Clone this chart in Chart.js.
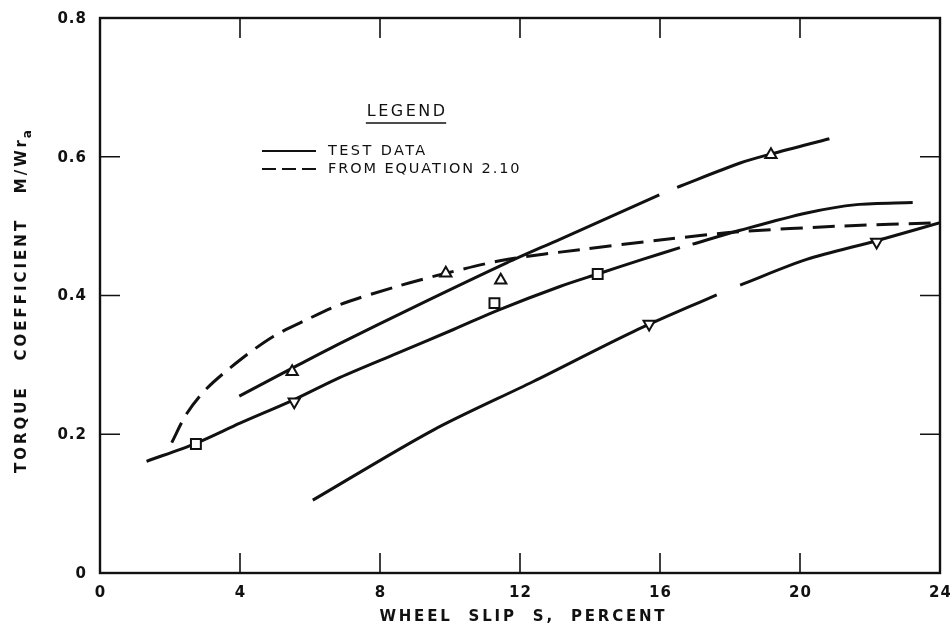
<!DOCTYPE html>
<html>
<head>
<meta charset="utf-8">
<script src="https://cdn.jsdelivr.net/npm/chart.js@4.4.1/dist/chart.umd.min.js"></script>
<style>
  html, body { margin: 0; padding: 0; background: #fff; }
  #wrap { width: 950px; height: 631px; position: relative; }
</style>
</head>
<body>
<div id="wrap"><canvas id="c" width="950" height="631"></canvas></div>
<script>
// Axis ticks
const xTicks = [0, 4, 8, 12, 16, 20, 24];
const xTickLabels = ['0', '4', '8', '12', '16', '20', '24'];
const yTicks = [0, 0.2, 0.4, 0.6, 0.8];
const yTickLabels = ['0', '0.2', '0.4', '0.6', '0.8'];

// Test-data curves: [slip %, torque coefficient]; null marks a break in the pen line
const squareCurve = [[1.33,0.161],[2.74,0.187],[4.0,0.216],[5.55,0.250],[6.86,0.282],[8.5,0.317],[10.1,0.351],[11.38,0.379],[13.14,0.413],[14.22,0.431],[15.5,0.452],[16.57,0.469],null,[16.93,0.474],[18.29,0.494],[20.19,0.519],[21.62,0.531],[23.22,0.534]];
const triUpCurve = [[3.98,0.255],[5.71,0.301],[6.86,0.331],[9.0,0.384],[11.62,0.447],[13.14,0.481],[15.98,0.545],null,[16.49,0.556],[18.29,0.591],[19.17,0.604],[20.84,0.626]];
const triDownCurve = [[6.08,0.105],[9.52,0.206],[12.38,0.276],[15.24,0.348],[17.62,0.401],null,[18.29,0.415],[20.19,0.452],[22.19,0.479],[24,0.505]];

// Curve from equation 2.10
const equationCurve = [[2.05,0.188],[2.48,0.230],[3.05,0.266],[4.0,0.307],[4.95,0.341],[5.9,0.365],[6.86,0.387],[8.48,0.413],[9.88,0.432],[11.62,0.452],[13.71,0.466],[16.0,0.480],[18.29,0.492],[21.14,0.500],[24,0.505]];

// Measured points
const squarePoints = [[2.74,0.186],[11.27,0.389],[14.22,0.431]];
const triUpPoints = [[5.49,0.290],[9.88,0.432],[11.45,0.422],[19.17,0.603]];
const triDownPoints = [[5.55,0.247],[15.69,0.359],[22.19,0.477]];

function toXY(arr) {
  const out = [];
  arr.forEach((p, i) => {
    if (p) out.push({ x: p[0], y: p[1] });
    else out.push({ x: arr[i - 1][0], y: null });
  });
  return out;
}

const INK = '#111';
const FONT = "'DejaVu Sans', sans-serif";

function markerSet(points, style, rotation, radius) {
  return {
    data: toXY(points), showLine: false, pointStyle: style, rotation: rotation,
    pointRadius: radius, pointBorderWidth: 2, pointBackgroundColor: '#fff', pointBorderColor: INK
  };
}
function curveSet(points, dash) {
  return {
    data: toXY(points), showLine: true, spanGaps: false, pointRadius: 0,
    borderColor: INK, borderWidth: 3, borderDash: dash || [], borderCapStyle: 'butt',
    tension: 0.3, fill: false
  };
}

function spaced(ctx, text, x, y, spacing, align) {
  ctx.save();
  ctx.letterSpacing = spacing + 'px';
  const w = ctx.measureText(text).width - spacing;
  let sx = x;
  if (align === 'center') sx = x - w / 2;
  else if (align === 'right') sx = x - w;
  ctx.textAlign = 'left';
  ctx.fillText(text, sx, y);
  ctx.restore();
  return w;
}

const framePlugin = {
  id: 'frame',
  afterDatasetsDraw(chart) {
    const { ctx, chartArea: a, scales: { x, y } } = chart;
    ctx.save();
    ctx.strokeStyle = INK;
    ctx.fillStyle = INK;
    ctx.lineWidth = 2.4;
    ctx.strokeRect(a.left, a.top, a.right - a.left, a.bottom - a.top);

    // inward tick marks on all four sides
    ctx.lineWidth = 1.6;
    const tl = 20;
    xTicks.slice(1, -1).forEach(v => {
      const px = x.getPixelForValue(v);
      ctx.beginPath();
      ctx.moveTo(px, a.bottom); ctx.lineTo(px, a.bottom - tl);
      ctx.moveTo(px, a.top); ctx.lineTo(px, a.top + tl);
      ctx.stroke();
    });
    yTicks.slice(1, -1).forEach(v => {
      const py = y.getPixelForValue(v);
      ctx.beginPath();
      ctx.moveTo(a.left, py); ctx.lineTo(a.left + tl, py);
      ctx.moveTo(a.right, py); ctx.lineTo(a.right - tl, py);
      ctx.stroke();
    });

    // tick labels
    ctx.font = 'bold 15px ' + FONT;
    ctx.textBaseline = 'middle';
    xTicks.forEach((v, i) => spaced(ctx, xTickLabels[i], x.getPixelForValue(v), a.bottom + 20, 1, 'center'));
    yTicks.forEach((v, i) => spaced(ctx, yTickLabels[i], a.left - 14, y.getPixelForValue(v) + 1, 1, 'right'));

    // axis titles
    ctx.font = 'bold 15px ' + FONT;
    spaced(ctx, 'WHEEL  SLIP  S,  PERCENT', (a.left + a.right) / 2 + 2, a.bottom + 44, 2.8, 'center');

    ctx.save();
    ctx.translate(22, (a.top + a.bottom) / 2 + 4);
    ctx.rotate(-Math.PI / 2);
    const main = 'TORQUE   COEFFICIENT   M/Wr';
    ctx.letterSpacing = '3px';
    const mw = ctx.measureText(main).width;
    ctx.font = 'bold 12px ' + FONT;
    const sw = ctx.measureText('a').width;
    ctx.font = 'bold 15px ' + FONT;
    const startX = -(mw + sw) / 2;
    ctx.textAlign = 'left';
    ctx.fillText(main, startX, 0);
    ctx.font = 'bold 12px ' + FONT;
    ctx.fillText('a', startX + mw - 1, 6);
    ctx.restore();

    // legend
    ctx.font = '16px ' + FONT;
    const lw = spaced(ctx, 'LEGEND', 406, 112, 2.5, 'center');
    ctx.lineWidth = 1.5;
    ctx.beginPath(); ctx.moveTo(406 - lw / 2 - 1, 123); ctx.lineTo(406 + lw / 2 + 1, 123); ctx.stroke();
    ctx.lineWidth = 2;
    ctx.beginPath(); ctx.moveTo(262, 151); ctx.lineTo(316, 151); ctx.stroke();
    ctx.setLineDash([14, 6]);
    ctx.beginPath(); ctx.moveTo(262, 169); ctx.lineTo(316, 169); ctx.stroke();
    ctx.setLineDash([]);
    ctx.font = '14.5px ' + FONT;
    spaced(ctx, 'TEST DATA', 328, 151, 2.4, 'left');
    spaced(ctx, 'FROM EQUATION 2.10', 328, 169, 1.9, 'left');
    ctx.restore();
  }
};

new Chart(document.getElementById('c'), {
  type: 'scatter',
  data: {
    datasets: [
      markerSet(squarePoints, 'rect', 0, 7),
      markerSet(triUpPoints, 'triangle', 0, 6.5),
      markerSet(triDownPoints, 'triangle', 180, 6.5),
      curveSet(squareCurve),
      curveSet(triUpCurve),
      curveSet(triDownCurve),
      curveSet(equationCurve, [22, 10])
    ]
  },
  options: {
    responsive: false,
    animation: false,
    layout: { padding: { left: 100, right: 10, top: 18, bottom: 58 } },
    scales: {
      x: { type: 'linear', min: 0, max: 24, display: false },
      y: { type: 'linear', min: 0, max: 0.8, display: false }
    },
    plugins: { legend: { display: false }, tooltip: { enabled: false } }
  },
  plugins: [framePlugin]
});
</script>
</body>
</html>
